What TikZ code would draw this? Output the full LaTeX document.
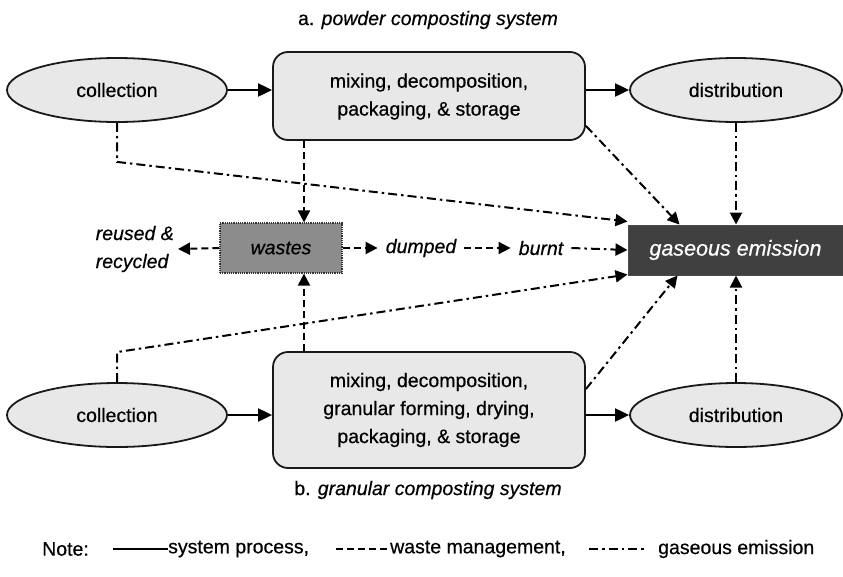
\documentclass[tikz,border=0pt]{standalone}
\usepackage{fontspec}
\setmainfont{Liberation Sans}[FakeBold=0.5]
\usetikzlibrary{shapes.geometric,arrows.meta,calc}
\definecolor{lightfill}{RGB}{232,232,232}
\definecolor{wastefill}{RGB}{140,140,140}
\definecolor{gasfill}{RGB}{64,64,64}
\begin{document}
\begin{tikzpicture}[x=1pt,y=-1pt,
  every node/.style={font=\fontsize{19.5}{28}\selectfont},
  ell/.style={ellipse,draw=black!90,line width=1.8pt,fill=lightfill,minimum width=220pt,minimum height=64pt,inner sep=0pt},
  proc/.style={rectangle,rounded corners=15pt,draw=black!90,line width=1.8pt,fill=lightfill,minimum width=312pt,inner sep=0pt,align=center},
  sp/.style={line width=2pt,-{Triangle[length=14pt,width=13pt]}},
  wm/.style={line width=2pt,dash pattern=on 7pt off 4pt,-{Triangle[length=12pt,width=12pt]}},
  ge/.style={line width=2pt,dash pattern=on 9pt off 4pt on 2.5pt off 4pt,-{Triangle[length=12pt,width=12pt]}},
  lbl/.style={font=\fontsize{19.5}{28}\selectfont\itshape,inner sep=0pt},
  plain/.style={inner sep=0pt,anchor=west}
]
\useasboundingbox (0,0) rectangle (843,576);

% titles
\node (ta) at (428,20) {a. \textit{powder composting system}};
\node (tb) at (428,490) {b. \textit{granular composting system}};

% top system
\node[ell] (c1) at (117,90) {collection};
\node[proc,minimum height=88pt] (p1) at (429,96) {\raisebox{7pt}{\begin{tabular}{@{}c@{}}mixing, decomposition,\\packaging, \& storage\end{tabular}}};
\node[ell,minimum width=212pt] (d1) at (736,90) {distribution};

% bottom system
\node[ell] (c2) at (117,415) {collection};
\node[proc,minimum height=116pt] (p2) at (429,410) {mixing, decomposition,\\granular forming, drying,\\packaging, \& storage};
\node[ell,minimum width=212pt] (d2) at (736,415) {distribution};

% middle row
\node[rectangle,draw=black!80,densely dotted,line width=1.2pt,fill=wastefill,minimum width=122pt,minimum height=50pt,inner sep=0pt,font=\fontsize{19.5}{28}\selectfont\itshape] (w) at (281,248) {wastes};
\node[lbl,align=left,anchor=east,inner xsep=4pt] (r) at (178,249) {reused \&\\recycled};
\node[lbl,inner xsep=8pt] (du) at (421,248) {dumped};
\node[lbl,inner xsep=8pt] (bu) at (541,248) {burnt};
\node[rectangle,draw=black!70,line width=1pt,fill=gasfill,minimum width=215pt,minimum height=50pt,inner sep=0pt,text=white,font=\fontsize{21.5}{26}\selectfont\itshape] (g) at (735.5,250) {gaseous emission};

% system process
\draw[sp] (c1.east) -- (c1.east -| p1.west);
\draw[sp] (p1.east |- d1.west) -- (d1.west);
\draw[sp] (c2.east) -- (c2.east -| p2.west);
\draw[sp] (p2.east |- d2.west) -- (d2.west);

% waste management
\coordinate (wt) at ([xshift=23pt]w.north);
\coordinate (wb) at ([xshift=23pt]w.south);
\draw[wm] (p1.south -| wt) -- (wt);
\draw[wm] (p2.north -| wb) -- (wb);
\draw[wm] (w.west) -- (r.east);
\draw[wm] (w.east) -- (du.west);
\draw[wm] (du.east) -- (bu.west);

% gaseous emission
\draw[ge] (bu.east) -- (g.west);
\draw[ge] (c1.south) -- ++(0,39) -- ([yshift=3pt]g.north west);
\draw[ge] ([yshift=15pt]p1.south east) -- ([xshift=52pt]g.north west);
\draw[ge] (d1.south) -- (d1.south |- g.north);
\draw[ge] (c2.north) -- ++(0,-30) -- ([yshift=1pt]g.south west);
\draw[ge] ([yshift=-38pt]p2.north east) -- ([xshift=50pt]g.south west);
\draw[ge] (d2.north) -- (d2.north |- g.south);

% legend
\node[plain] (note) at (42,549) {Note:};
\coordinate (l1a) at (113,549); \coordinate (l1b) at (168,549);
\draw[line width=2pt] (l1a) -- (l1b);
\node[plain] (n1) at (168,549) {system process,};
\coordinate (l2a) at (336,549); \coordinate (l2b) at (390,549);
\draw[line width=2pt,dash pattern=on 7pt off 4pt] (l2a) -- (l2b);
\node[plain] (n2) at (390,549) {waste management,};
\coordinate (l3a) at (589,549); \coordinate (l3b) at (645,549);
\draw[line width=2pt,dash pattern=on 9pt off 4pt on 2.5pt off 4pt] (l3a) -- (l3b);
\node[plain] (n3) at (658,549) {gaseous emission};
\end{tikzpicture}
\end{document}
